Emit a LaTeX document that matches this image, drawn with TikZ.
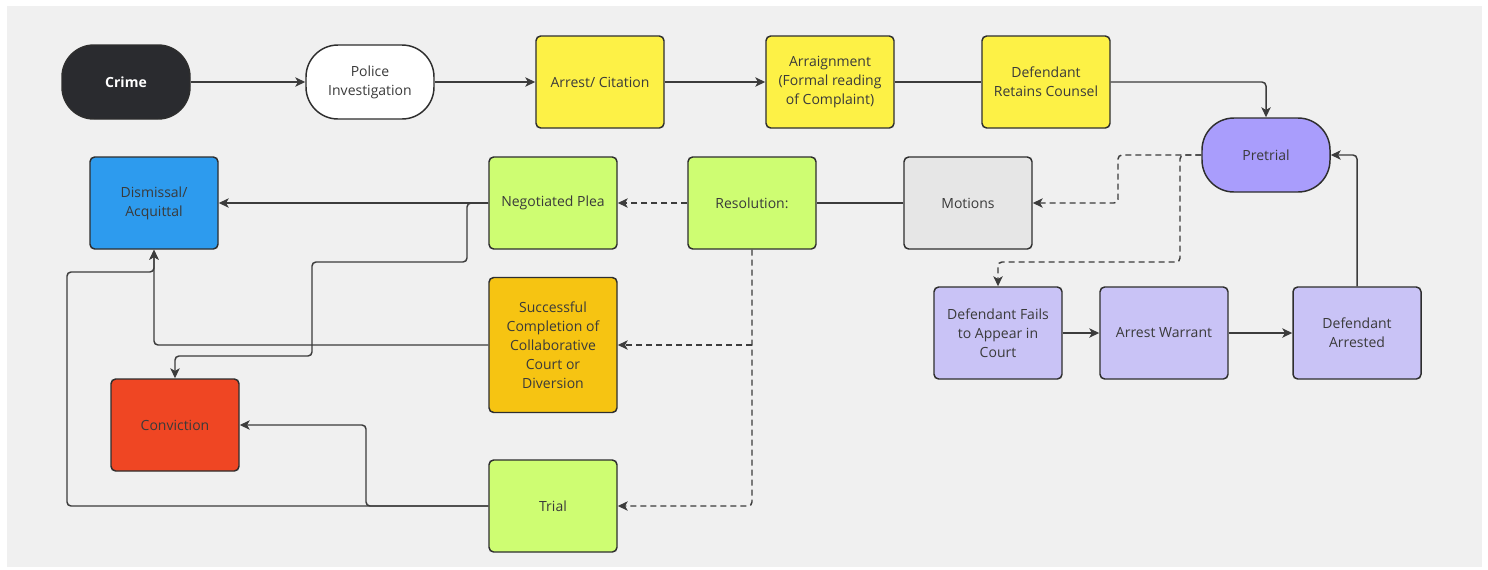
\documentclass[tikz,border=0pt]{standalone}
\usepackage{fontspec}
\setmainfont{Open Sans}
\usetikzlibrary{arrows.meta}
\definecolor{bgc}{HTML}{F0F0F0}
\definecolor{crimec}{HTML}{2A2B2F}
\definecolor{yelc}{HTML}{FDF146}
\definecolor{prec}{HTML}{A99DFC}
\definecolor{lpurc}{HTML}{C9C3F6}
\definecolor{bluec}{HTML}{2D9BEE}
\definecolor{greenc}{HTML}{CEFD72}
\definecolor{motc}{HTML}{E6E6E6}
\definecolor{orc}{HTML}{F6C412}
\definecolor{redc}{HTML}{EF4623}
\definecolor{edgec}{HTML}{2E2E2E}
\definecolor{linec}{HTML}{3C3C3C}
\definecolor{txtc}{HTML}{3A3A3A}
\begin{document}
\begin{tikzpicture}[x=0.75pt,y=-0.75pt,
  box/.style={draw=edgec,line width=1.1pt,rounded corners=3.5pt,minimum width=96pt,minimum height=69pt,
    align=center,font=\fontsize{10.5}{14.25}\selectfont,text=txtc,inner sep=2pt},
  stadium/.style={box,rounded corners=24pt,minimum height=55.5pt},
  conn/.style={draw=linec,line width=1.1pt,rounded corners=3pt},
  arr/.style={conn,-{Stealth[length=7.5pt,width=7pt,inset=2pt]}},
  darr/.style={arr,dash pattern=on 4.5pt off 3pt},
  dln/.style={conn,dash pattern=on 4.5pt off 3pt}]
\useasboundingbox (0,0) rectangle (1488,569);
\fill[white] (0,0) rectangle (1488,569);
\fill[bgc] (7,6) rectangle (1482,567);

% top row
\node[stadium,fill=crimec,text=white,font=\fontsize{10.5}{14.25}\selectfont\bfseries] (crime) at (126,82) {Crime};
\node[stadium,fill=white] (police) at (370,82) {Police\\Investigation};
\node[box,fill=yelc] (arrest) at (600,82) {Arrest/ Citation};
\node[box,fill=yelc] (arraign) at (830,82) {Arraignment\\(Formal reading\\of Complaint)};
\node[box,fill=yelc] (counsel) at (1046,82) {Defendant\\Retains Counsel};
\node[stadium,fill=prec] (pre) at (1266,155) {Pretrial};

% second row
\node[box,fill=bluec] (dis) at (154,203) {Dismissal/\\Acquittal};
\node[box,fill=greenc] (plea) at (553,203) {Negotiated Plea};
\node[box,fill=greenc] (res) at (752,203) {Resolution:};
\node[box,fill=motc] (mot) at (968,203) {Motions};

% lower
\node[box,fill=orc,minimum height=101.25pt] (succ) at (553,345) {Successful\\Completion of\\Collaborative\\Court or\\Diversion};
\node[box,fill=redc] (conv) at (175,425) {Conviction};
\node[box,fill=greenc] (trial) at (553,506) {Trial};

\node[box,fill=lpurc] (fails) at (998,333) {Defendant Fails\\to Appear in\\Court};
\node[box,fill=lpurc] (warr) at (1164,333) {Arrest Warrant};
\node[box,fill=lpurc] (darr) at (1357,333) {Defendant\\Arrested};

% connectors top row
\draw[arr] (crime) -- (police);
\draw[arr] (police) -- (arrest);
\draw[arr] (arrest) -- (arraign);
\draw[conn] (arraign) -- (counsel);
\draw[arr] (counsel.east) -| (pre.north);

% pretrial branches
\draw[darr] (pre.west) -- (1118,155) |- (mot.east);
\draw[darr] (pre.west) -- (1180,155) -- (1180,262) -| (fails.north);
\draw[arr] (fails) -- (warr);
\draw[arr] (warr) -- (darr);
\draw[arr] (darr.north) |- (pre.east);

% resolution
\draw[conn] (mot) -- (res);
\draw[darr] (res) -- (plea);
\draw[darr] (res.south) |- (trial.east);
\coordinate (rsplit) at (res.south |- succ.east);
\draw[darr] (rsplit) -- (succ.east);

% outcomes
\draw[arr] (plea.west) -- (dis.east);
\draw[arr] (plea.west) -- (467,203) -- (467,262) -- (312,262) -- (312,356) -| (conv.north);
\draw[arr] (succ.west) -| (dis.south);
\draw[arr] (trial.west) -- (67,506) -- (67,272) -| (dis.south);
\draw[arr] (trial.west) -- (366,506) |- (conv.east);
\end{tikzpicture}
\end{document}
